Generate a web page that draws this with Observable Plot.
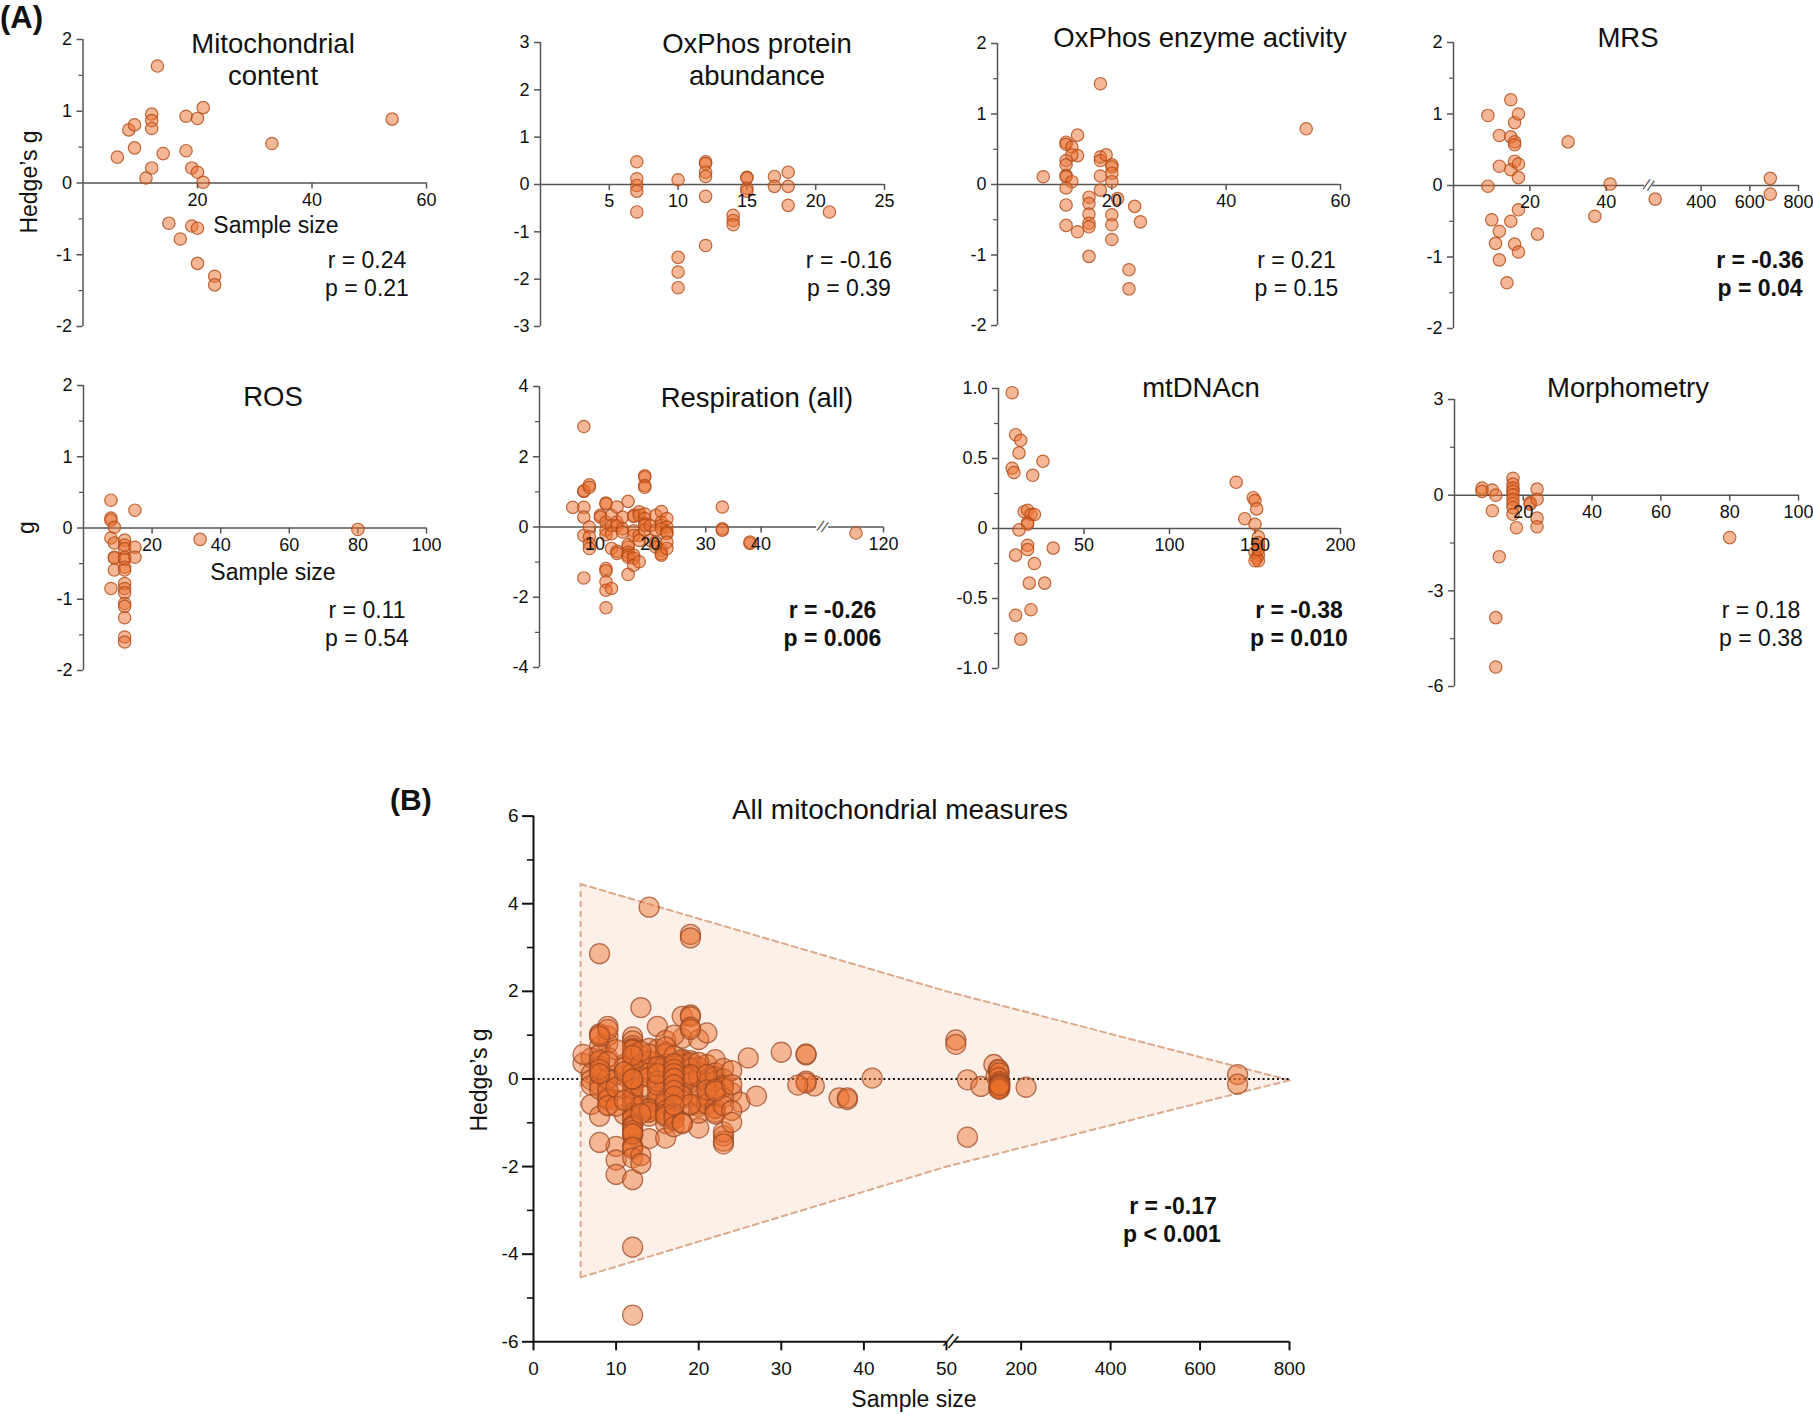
<!DOCTYPE html>
<html>
<head>
<meta charset="utf-8">
<script src="https://cdn.jsdelivr.net/npm/d3@7"></script>
<script src="https://cdn.jsdelivr.net/npm/@observablehq/plot@0.6"></script>
<style>
  html, body { margin: 0; padding: 0; background: #fff; }
  #fig { position: relative; width: 1813px; height: 1414px; background: #fff; overflow: hidden;
         font-family: "Liberation Sans", Arial, Helvetica, sans-serif; color: #111; }
</style>
</head>
<body>
<div id="fig"></div>
<script>
// ---------------- DATA: [sample size, Hedge's g] ----------------
const mitoContent = [[6,0.36],[8,0.74],[9,0.81],[9,0.49],[11,0.07],[12,0.96],[12,0.87],[12,0.76],[12,0.21],
  [13,1.63],[14,0.41],[15,-0.56],[17,-0.78],[18,0.93],[18,0.45],[19,0.21],[19,-0.60],[20,0.90],[20,0.15],
  [20,-0.63],[20,-1.12],[21,1.05],[21,0.01],[23,-1.30],[23,-1.42],[33,0.55],[54,0.89]];

const oxphosProtein = [[7,0.48],[7,0.12],[7,-0.02],[7,-0.14],[7,-0.58],[10,0.10],[10,-1.54],[10,-1.85],[10,-2.18],
  [12,0.48],[12,0.44],[12,0.26],[12,0.17],[12,-0.25],[12,-1.29],[14,-0.65],[14,-0.76],[14,-0.85],
  [15,0.15],[15,0.14],[15,-0.08],[15,-0.14],[17,0.17],[17,-0.04],[18,0.26],[18,-0.04],[18,-0.44],[21,-0.58]];

const oxphosEnzyme = [[8,0.11],[12,0.60],[12,0.57],[13,0.53],[14,0.70],[14,0.41],[13,0.42],[12,0.34],[12,0.28],
  [12,0.13],[12,0.11],[13,0.04],[12,-0.05],[12,-0.29],[12,-0.58],[14,-0.67],[16,-0.18],[16,-0.27],[16,-0.42],
  [16,-0.55],[16,-0.60],[16,-1.02],[18,1.43],[18,0.39],[18,0.34],[19,0.42],[18,0.12],[18,-0.08],[20,0.28],
  [20,0.25],[20,0.16],[20,0.04],[21,-0.20],[20,-0.43],[20,-0.57],[20,-0.78],[24,-0.31],[25,-0.53],
  [23,-1.21],[23,-1.48],[54,0.79]];

const mrs = [[9,0.98],[9,-0.01],[10,-0.48],[11,-0.81],[12,0.70],[12,0.27],[12,-0.64],[12,-1.04],[14,-1.36],
  [15,1.20],[15,0.68],[15,0.22],[15,-0.50],[16,0.88],[16,0.61],[16,0.57],[16,0.34],[16,-0.82],[17,1.00],
  [17,0.30],[17,0.11],[17,-0.34],[17,-0.93],[22,-0.68],[30,0.61],[37,-0.43],[41,0.02],[211,-0.19],
  [684,0.10],[684,-0.12]];

const ros = [[8,0.39],[8,0.14],[8,0.11],[9,0.01],[8,-0.14],[9,-0.21],[9,-0.41],[9,-0.42],[9,-0.59],[8,-0.85],
  [12,-0.17],[12,-0.24],[12,-0.29],[12,-0.41],[12,-0.44],[12,-0.55],[12,-0.59],[12,-0.78],[12,-0.85],
  [12,-0.91],[12,-1.06],[12,-1.10],[12,-1.26],[12,-1.53],[12,-1.60],[15,0.25],[15,-0.27],[15,-0.41],
  [34,-0.16],[80,-0.02]];

const respiration = [[6,0.56],[8,2.86],[8,1.01],[8,1.03],[8,0.56],[8,0.28],[8,-0.24],[8,-1.45],
  [9,1.20],[9,1.13],[9,0.00],[9,-0.28],[9,-0.47],[9,-0.61],[11,0.33],[11,0.28],
  [12,0.68],[12,0.66],[12,0.14],[12,-0.09],[12,-0.22],[12,-1.18],[12,-1.25],[12,-1.56],[12,-1.80],[12,-2.30],
  [13,0.33],[13,0.04],[13,-0.19],[13,-0.61],[13,-1.75],[14,0.57],[14,0.14],[14,0.04],[14,-0.69],[14,-0.75],
  [15,0.28],[15,-0.05],[15,-0.14],[16,0.73],[16,-0.57],[16,-0.50],[16,-0.72],[16,-0.80],[16,-0.86],[16,-1.35],
  [17,0.33],[17,0.30],[17,-0.11],[17,-0.24],[17,-0.80],[17,-0.89],[17,-1.09],[18,0.43],[18,0.33],[18,-0.24],
  [18,-0.38],[18,-0.99],[19,1.46],[19,1.42],[19,1.18],[19,1.13],[19,0.37],[19,0.24],[19,0.09],[19,0.05],
  [19,-0.09],[20,0.04],[20,-0.38],[21,0.33],[21,-0.09],[21,-0.43],[21,-0.57],[22,0.44],[22,0.14],[22,0.05],
  [22,-0.05],[22,-0.66],[22,-0.76],[22,-0.80],[23,0.24],[23,0.00],[23,-0.14],[23,-0.19],[23,-0.43],[23,-0.61],
  [33,0.57],[33,-0.05],[33,-0.09],[38,-0.47],[38,-0.43],[110,-0.17]];

const mtdna = [[8,0.97],[10,0.67],[13,0.63],[12,0.54],[8,0.43],[9,0.40],[20,0.38],[26,0.48],[15,0.12],[17,0.13],
  [19,0.10],[21,0.10],[17,0.04],[17,0.03],[12,-0.01],[10,-0.19],[17,-0.12],[17,-0.15],[21,-0.25],[18,-0.39],
  [27,-0.39],[32,-0.14],[19,-0.58],[10,-0.62],[13,-0.79],[139,0.33],[144,0.07],[149,0.22],[150,0.20],
  [151,0.14],[150,0.03],[152,-0.06],[152,-0.10],[152,-0.13],[150,-0.17],[152,-0.19],[151,-0.21],
  [152,-0.23],[150,-0.23],[152,-0.15]];

const morphometry = [[8,0.22],[8,0.12],[11,0.16],[12,0.00],[11,-0.49],[13,-1.93],[12,-3.84],[12,-5.39],
  [17,0.53],[17,0.35],[17,0.22],[17,0.12],[17,0.01],[17,-0.13],[17,-0.26],[17,-0.39],[17,-0.60],[18,-1.02],
  [22,-0.23],[22,-0.28],[24,0.19],[24,-0.13],[24,-0.72],[24,-0.99],[80,-1.33]];

// points visible only in panel (B)
const otherMeasures = [[14,3.92],[19,3.30],[19,3.22]];

// funnel outline of panel (B)
const funnelN  = [5.7, 50, 800];
const funnelHi = [4.45, 2.0, -0.03];
const funnelLo = [-4.53, -2.0, -0.03];

// stats text
const panelTitles = [["Mitochondrial","content"],["OxPhos protein","abundance"],["OxPhos enzyme activity"],["MRS"],
  ["ROS"],["Respiration (all)"],["mtDNAcn"],["Morphometry"]];
const panelR = ["r = 0.24","r = -0.16","r = 0.21","r = -0.36","r = 0.11","r = -0.26","r = -0.38","r = 0.18"];
const panelP = ["p = 0.21","p = 0.39","p = 0.15","p = 0.04","p = 0.54","p = 0.006","p = 0.010","p = 0.38"];
const panelBold = [false,false,false,true,false,true,true,false];

// ---------------- STYLE ----------------
const FONT = '"Liberation Sans", Arial, Helvetica, sans-serif';
const AXIS_A = "#555";
const FILL = "#ec6f2d";
const STROKE = "#b24a17";
const fig = document.getElementById("fig");

function place(svg, L, T) {
  svg.style.position = "absolute";
  svg.style.left = L + "px";
  svg.style.top = T + "px";
  fig.appendChild(svg);
}

function label(str, x, y, size, opts = {}) {
  const d = document.createElement("div");
  d.textContent = str;
  const a = opts.anchor || "middle";
  const tx = a === "middle" ? "-50%" : a === "end" ? "-100%" : "0";
  d.style.cssText = `position:absolute;left:0;top:0;white-space:nowrap;line-height:1;` +
    `font-size:${size}px;font-weight:${opts.bold ? 700 : 400};color:#111;transform-origin:0 0;` +
    `transform:translate(${x}px,${y}px) ${opts.rotate ? `rotate(${opts.rotate}deg) ` : ""}translate(${tx},-0.8465em);`;
  fig.appendChild(d);
}

function panelA(c) {
  const [L, T, W, H] = c.box;
  const x0 = c.xDomain[0];
  const right = c.xRange[c.xRange.length - 1];
  const yLo = c.yDomain[0], yHi = c.yDomain[c.yDomain.length - 1];
  const fmt = c.yFmt || (d => String(d));
  const marks = [
    Plot.ruleY(c.segments, {y: 0, x1: d => d[0], x2: d => d[1], stroke: AXIS_A, strokeWidth: 1.5}),
    Plot.ruleX([x0], {y1: yLo, y2: yHi, stroke: AXIS_A, strokeWidth: 1.5}),
    Plot.ruleY(c.yTicks, {y: d => d, x1: x0, x2: x0, insetLeft: -6, stroke: AXIS_A, strokeWidth: 1.5}),
    Plot.ruleY(c.yMinor, {y: d => d, x1: x0, x2: x0, insetLeft: -4, stroke: AXIS_A, strokeWidth: 1.2}),
    Plot.ruleX(c.xTicks, {x: d => d, y1: 0, y2: 0, insetBottom: -6, stroke: AXIS_A, strokeWidth: 1.5}),
    Plot.dot(c.data, {x: d => d[0], y: d => d[1], r: 6.2, fill: FILL, fillOpacity: 0.5,
      stroke: STROKE, strokeOpacity: 0.8, strokeWidth: 1.2}),
    Plot.text(c.xTicks, {x: d => d, y: 0, text: d => String(d), dy: 17, fontSize: 18, fill: "#111"}),
    Plot.text(c.yTicks, {x: x0, y: d => d, text: fmt, textAnchor: "end", dx: -11, fontSize: 18, fill: "#111"})
  ];
  if (c.brk != null) marks.push(Plot.text([c.brk], {x: d => d, y: 0, text: () => "//", fontSize: 16, rotate: 20, fill: AXIS_A}));
  const plot = Plot.plot({
    width: W, height: H,
    marginLeft: c.xRange[0] - L, marginRight: L + W - right,
    marginTop: c.yPix[0] - T, marginBottom: T + H - c.yPix[1],
    style: {fontFamily: FONT, background: "transparent", overflow: "visible", color: "#111"},
    x: {type: "linear", domain: c.xDomain, range: c.xRange.map(p => p - L), axis: null},
    y: {type: "linear", domain: c.yDomain, axis: null},
    marks
  });
  place(plot, L, T);
}

const half2 = [-1.5, -0.5, 0.5, 1.5];
const panels = [
  {box: [0, 0, 452, 345], xDomain: [0, 60], xRange: [82.5, 426], yPix: [39, 326], yDomain: [-2, 2],
   yTicks: [-2, -1, 0, 1, 2], yMinor: half2, xTicks: [20, 40, 60], segments: [[0, 60]], data: mitoContent},
  {box: [452, 0, 462, 345], xDomain: [0, 25], xRange: [540, 884], yPix: [42, 326], yDomain: [-3, 3],
   yTicks: [-3, -2, -1, 0, 1, 2, 3], yMinor: [], xTicks: [5, 10, 15, 20, 25], segments: [[0, 25]], data: oxphosProtein},
  {box: [914, 0, 452, 345], xDomain: [0, 60], xRange: [997, 1340], yPix: [43, 325], yDomain: [-2, 2],
   yTicks: [-2, -1, 0, 1, 2], yMinor: half2, xTicks: [20, 40, 60], segments: [[0, 60]], data: oxphosEnzyme},
  {box: [1366, 0, 447, 345], xDomain: [0, 50, 200, 800], xRange: [1453, 1644, 1652, 1798], yPix: [42, 328], yDomain: [-2, 2],
   yTicks: [-2, -1, 0, 1, 2], yMinor: half2, xTicks: [20, 40, 400, 600, 800], segments: [[0, 50], [200, 800]], brk: 125, data: mrs},
  {box: [0, 370, 452, 330], xDomain: [0, 100], xRange: [83, 426], yPix: [385, 670], yDomain: [-2, 2],
   yTicks: [-2, -1, 0, 1, 2], yMinor: half2, xTicks: [20, 40, 60, 80, 100], segments: [[0, 100]], data: ros},
  {box: [452, 370, 462, 330], xDomain: [0, 50, 100, 120], xRange: [539, 816, 828, 883], yPix: [386, 667], yDomain: [-4, 4],
   yTicks: [-4, -2, 0, 2, 4], yMinor: [-3, -1, 1, 3], xTicks: [10, 20, 30, 40, 120], segments: [[0, 50], [100, 120]], brk: 75, data: respiration},
  {box: [914, 370, 452, 330], xDomain: [0, 200], xRange: [998, 1340], yPix: [388, 668], yDomain: [-1, 1],
   yTicks: [-1, -0.5, 0, 0.5, 1], yMinor: [-0.75, -0.25, 0.25, 0.75], yFmt: d => d === 0 ? "0" : d.toFixed(1),
   xTicks: [50, 100, 150, 200], segments: [[0, 200]], data: mtdna},
  {box: [1366, 370, 447, 330], xDomain: [0, 100], xRange: [1454, 1798], yPix: [399, 686], yDomain: [-6, 3],
   yTicks: [-6, -3, 0, 3], yMinor: [-4.5, -1.5, 1.5], xTicks: [20, 40, 60, 80, 100], segments: [[0, 100]], data: morphometry}
];
panels.forEach(panelA);

// ---------------- PANEL B ----------------
(function panelB() {
  const L = 380, T = 780, W = 940, H = 634;
  const xRange = [533, 946, 954, 1289], yTop = 815.6, yBot = 1341.3;
  const funnel = funnelN.map((n, i) => ({n, hi: funnelHi[i], lo: funnelLo[i]}));
  const all = [...mitoContent, ...oxphosProtein, ...oxphosEnzyme, ...mrs, ...ros, ...respiration, ...mtdna, ...morphometry, ...otherMeasures];
  const xTicks = [0, 10, 20, 30, 40, 50, 200, 400, 600, 800];
  const yTicks = [-6, -4, -2, 0, 2, 4, 6];
  const yMinor = [-5, -3, -1, 1, 3, 5];
  const dash = {stroke: "#dcaa8c", strokeWidth: 2, strokeDasharray: "6,4"};
  const plot = Plot.plot({
    width: W, height: H,
    marginLeft: xRange[0] - L, marginRight: L + W - xRange[3],
    marginTop: yTop - T, marginBottom: T + H - yBot,
    style: {fontFamily: FONT, background: "transparent", overflow: "visible", color: "#111"},
    x: {type: "linear", domain: [0, 50, 51, 800], range: xRange.map(p => p - L), axis: null},
    y: {type: "linear", domain: [-6, 6], axis: null},
    marks: [
      Plot.areaY(funnel, {x: "n", y1: "lo", y2: "hi", fill: "#fdf0e9"}),
      Plot.line(funnel, {x: "n", y: "hi", ...dash}),
      Plot.line(funnel, {x: "n", y: "lo", ...dash}),
      Plot.ruleX([funnel[0]], {x: "n", y1: "lo", y2: "hi", ...dash}),
      Plot.ruleY([0], {x1: 0, x2: 800, stroke: "#111", strokeWidth: 2, strokeDasharray: "2,2.8"}),
      Plot.dot(all, {x: d => d[0], y: d => d[1], r: 10, fill: FILL, fillOpacity: 0.45,
        stroke: "#9c4a24", strokeOpacity: 0.75, strokeWidth: 1.3}),
      Plot.ruleX([0], {y1: -6, y2: 6, stroke: "#111", strokeWidth: 2}),
      Plot.ruleY([[0, 50], [51, 800]], {y: -6, x1: d => d[0], x2: d => d[1], stroke: "#111", strokeWidth: 2}),
      Plot.ruleY(yTicks, {y: d => d, x1: 0, x2: 0, insetLeft: -11, stroke: "#111", strokeWidth: 2}),
      Plot.ruleY(yMinor, {y: d => d, x1: 0, x2: 0, insetLeft: -6, stroke: "#111", strokeWidth: 1.6}),
      Plot.ruleX(xTicks, {x: d => d, y1: -6, y2: -6, insetBottom: -9, stroke: "#111", strokeWidth: 2}),
      Plot.text(yTicks, {x: 0, y: d => d, text: d => String(d), textAnchor: "end", dx: -15, fontSize: 19, fill: "#111"}),
      Plot.text(xTicks, {x: d => d, y: -6, text: d => String(d), dy: 27, fontSize: 19, fill: "#111"}),
      Plot.text([50.5], {x: d => d, y: -6, text: () => "//", fontSize: 20, rotate: 25, fill: "#111"})
    ]
  });
  place(plot, L, T);
})();

// ---------------- TEXT ----------------
label("(A)", 0, 28, 31, {bold: true, anchor: "start"});
label("(B)", 390, 810, 30, {bold: true, anchor: "start"});

const titlePos = [[273, [53.3, 85]], [757, [53.3, 85]], [1200, [47.3]], [1628, [47.7]],
                  [273, [406.7]], [757, [407]], [1201, [397.3]], [1628, [397.3]]];
panelTitles.forEach((lines, i) => {
  lines.forEach((t, j) => label(t, titlePos[i][0], titlePos[i][1][j], 27.5));
});

const statPos = [[367, 268.3], [849, 268.3], [1296.5, 268.3], [1760, 268], [367, 618], [832.5, 618], [1299, 618.3], [1761, 618.3]];
panelR.forEach((r, i) => {
  label(r, statPos[i][0], statPos[i][1], 23, {bold: panelBold[i]});
  label(panelP[i], statPos[i][0], statPos[i][1] + 28.2, 23, {bold: panelBold[i]});
});

label("Hedge\u2019s g", 37, 182, 23, {rotate: -90});
label("g", 34.5, 527.5, 23, {rotate: -90});
label("Sample size", 276, 233, 23);
label("Sample size", 273, 580, 23);

label("All mitochondrial measures", 900, 820, 28);
label("Hedge\u2019s g", 487, 1080, 23, {rotate: -90});
label("Sample size", 914, 1407, 23);
label("r = -0.17", 1173, 1214, 23, {bold: true});
label("p < 0.001", 1172, 1242, 23, {bold: true});
</script>
</body>
</html>
